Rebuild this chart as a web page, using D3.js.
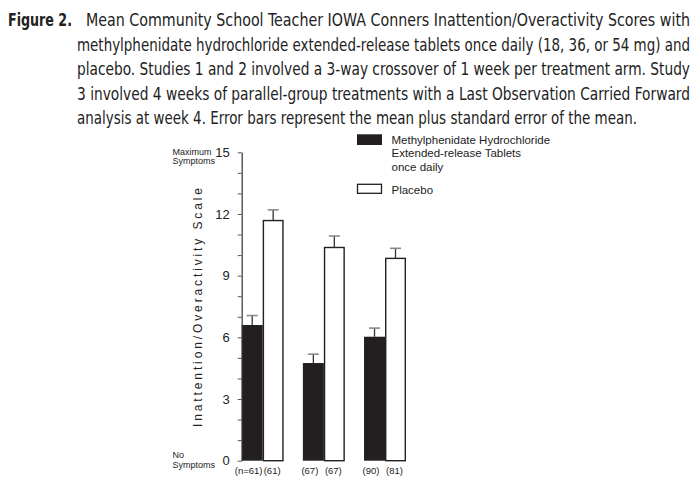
<!DOCTYPE html>
<html>
<head>
<meta charset="utf-8">
<script src="https://cdn.jsdelivr.net/npm/d3@7"></script>
<style>
  body { margin: 0; background: #fff; }
  svg { display: block; }
  .cap { font-family: "Liberation Sans Narrow", "DejaVu Sans Condensed", "Roboto Condensed", Roboto, sans-serif; font-size: 18.5px; fill: #222; }
  .small { font-family: "Liberation Sans", Arial, sans-serif; fill: #222; }
</style>
</head>
<body>
<div id="chart"></div>
<script>
// caption lines, each is [text, x start, x end]
var captionLines = [
  ["Mean Community School Teacher IOWA Conners Inattention/Overactivity Scores with", 86, 690],
  ["methylphenidate hydrochloride extended-release tablets once daily (18, 36, or 54 mg) and", 77, 690],
  ["placebo. Studies 1 and 2 involved a 3-way crossover of 1 week per treatment arm. Study", 77, 690],
  ["3 involved 4 weeks of parallel-group treatments with a Last Observation Carried Forward", 77, 690],
  ["analysis at week 4. Error bars represent the mean plus standard error of the mean.", 77, 637]
];

var groups = ["Study 1", "Study 2", "Study 3"];
var series = ["active", "placebo"];
var activeMean = [6.6, 4.75, 6.03];
var activeSE = [0.46, 0.43, 0.42];
var placeboMean = [11.68, 10.37, 9.84];
var placeboSE = [0.52, 0.56, 0.49];
var nActive = ["(n=61)", "(67)", "(90)"];
var nPlacebo = ["(61)", "(67)", "(81)"];
var yTicks = [0, 3, 6, 9, 12, 15];

var width = 700, height = 494;

var svg = d3.select("#chart").append("svg")
    .attr("width", width)
    .attr("height", height);

// caption
var cap = svg.append("g");
var fig = cap.append("text")
    .attr("class", "cap")
    .attr("x", 8)
    .attr("y", 26)
    .attr("font-weight", "bold")
    .text("Figure 2.");
fitText(fig, 64);
captionLines.forEach(function(l, i) {
  var t = cap.append("text")
      .attr("class", "cap")
      .attr("x", l[1])
      .attr("y", 26 + i * 24.6)
      .text(l[0]);
  fitText(t, l[2] - l[1]);
});

// shrink the font if the line is too long, then stretch it to the width
function fitText(t, w) {
  var len = t.node().getComputedTextLength();
  if (len > w) {
    var fs = parseFloat(getComputedStyle(t.node()).fontSize);
    t.attr("font-size", (fs * w / len) + "px");
  }
  t.attr("textLength", w).attr("lengthAdjust", "spacingAndGlyphs");
}

// scales
var y = d3.scaleLinear().domain([0, 15]).range([460.7, 152.3]);

var x0 = d3.scaleBand()
    .domain(groups)
    .range([241.7, 406])
    .paddingInner(0.314)
    .paddingOuter(0);

var x1 = d3.scaleBand()
    .domain(series)
    .range([0, x0.bandwidth()]);

var data = groups.map(function(g, i) {
  return [
    {g: g, s: "active", v: activeMean[i], se: activeSE[i], n: nActive[i]},
    {g: g, s: "placebo", v: placeboMean[i], se: placeboSE[i], n: nPlacebo[i]}
  ];
});
var flat = d3.merge(data);

function cx(d) { return x0(d.g) + x1(d.s) + x1.bandwidth() / 2; }

// bars
svg.append("g").selectAll("rect")
    .data(flat).enter()
    .append("rect")
    .attr("x", function(d) { return x0(d.g) + x1(d.s) + (d.s == "placebo" ? 0.7 : 0); })
    .attr("y", function(d) { return y(d.v); })
    .attr("width", function(d) { return x1.bandwidth() - (d.s == "placebo" ? 1.4 : 0); })
    .attr("height", function(d) { return y(0) - y(d.v); })
    .attr("fill", function(d) { return d.s == "active" ? "#231f20" : "#fff"; })
    .attr("stroke", function(d) { return d.s == "active" ? "none" : "#231f20"; })
    .attr("stroke-width", 1.4);

// error bars
var err = svg.append("g").selectAll("g")
    .data(flat).enter()
    .append("g");
err.append("line")
    .attr("x1", cx)
    .attr("x2", cx)
    .attr("y1", function(d) { return y(d.v); })
    .attr("y2", function(d) { return y(d.v + d.se); })
    .attr("stroke", "#333")
    .attr("stroke-width", 1.3);
err.append("line")
    .attr("x1", function(d) { return cx(d) - 5.5; })
    .attr("x2", function(d) { return cx(d) + 5.5; })
    .attr("y1", function(d) { return y(d.v + d.se); })
    .attr("y2", function(d) { return y(d.v + d.se); })
    .attr("stroke", "#8a8a8a")
    .attr("stroke-width", 1.6);

// y axis
var yAxis = svg.append("g")
    .attr("transform", "translate(241.7,0)")
    .call(d3.axisLeft(y).ticks(15).tickSize(4).tickSizeOuter(0)
      .tickFormat(function(d) { return yTicks.indexOf(d) >= 0 ? d : ""; }));
yAxis.select(".domain").attr("stroke", "#333").attr("stroke-width", 1.2);
yAxis.selectAll(".tick line").attr("stroke", "#555");
yAxis.selectAll(".tick text")
    .attr("x", -12)
    .attr("font-family", "Liberation Sans, Arial, sans-serif")
    .attr("font-size", "13px")
    .attr("fill", "#222");

// y axis title
svg.append("text")
    .attr("class", "small")
    .attr("transform", "translate(202,307.5) rotate(-90)")
    .attr("text-anchor", "middle")
    .attr("font-size", "12px")
    .attr("textLength", 239)
    .attr("lengthAdjust", "spacing")
    .text("Inattention/Overactivity Scale");

// end labels
var ends = [["Maximum", 155], ["Symptoms", 163.5], ["No", 457.7], ["Symptoms", 467.7]];
svg.append("g").selectAll("text")
    .data(ends).enter()
    .append("text")
    .attr("class", "small")
    .attr("x", 172.5)
    .attr("y", function(d) { return d[1]; })
    .attr("font-size", "9px")
    .text(function(d) { return d[0]; });

// n labels
svg.append("g").selectAll("text")
    .data(flat).enter()
    .append("text")
    .attr("class", "small")
    .attr("x", function(d) { return cx(d) + (d.s == "active" ? -3.5 : -1); })
    .attr("y", 474)
    .attr("text-anchor", "middle")
    .attr("font-size", "9.5px")
    .text(function(d) { return d.n; });

// legend
var legend = svg.append("g");
legend.append("rect")
    .attr("x", 357).attr("y", 134.3)
    .attr("width", 25).attr("height", 10.7)
    .attr("fill", "#231f20");
legend.append("rect")
    .attr("x", 357.5).attr("y", 184.3)
    .attr("width", 24).attr("height", 9)
    .attr("fill", "#fff")
    .attr("stroke", "#231f20")
    .attr("stroke-width", 1.3);
var legendText = [["Methylphenidate Hydrochloride", 144], ["Extended-release Tablets", 157.3], ["once daily", 170.7], ["Placebo", 194]];
legend.selectAll("text.lt")
    .data(legendText).enter()
    .append("text")
    .attr("class", "small lt")
    .attr("x", 391.5)
    .attr("y", function(d) { return d[1]; })
    .attr("font-size", "11.5px")
    .text(function(d) { return d[0]; });
</script>
</body>
</html>
